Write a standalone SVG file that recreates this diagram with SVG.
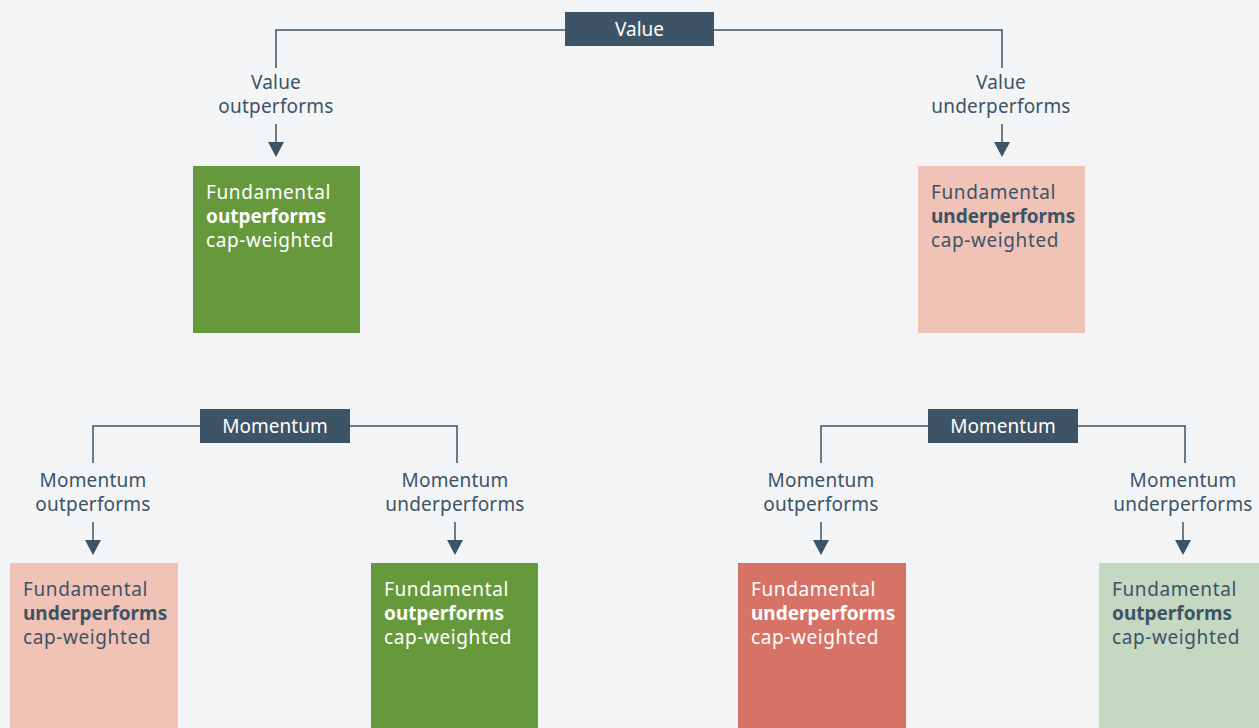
<svg xmlns="http://www.w3.org/2000/svg" width="1259" height="728" viewBox="0 0 1259 728">
  <style>
    text { font-family: "Noto Sans", "Liberation Sans", sans-serif; font-size: 19px; }
    .hdr { fill: #ffffff; text-anchor: middle; }
    .lbl { fill: #3d5366; text-anchor: middle; letter-spacing: 0.2px; }
    .dk { fill: #3d5366; letter-spacing: 0.6px; }
    .wt { fill: #ffffff; letter-spacing: 0.6px; }
    .b { font-weight: bold; letter-spacing: 0; }
    .wire { fill: none; stroke: #3d5366; stroke-width: 1.5; }
    .head { fill: #3d5366; }
    .hbox { fill: #3d5366; }
  </style>
  <rect width="1259" height="728" fill="#f2f4f6"/>

  <!-- connectors: elbow lines from each decision header, then short arrows into the outcomes -->
  <g id="connectors">
    <path class="wire" d="M565,30 H276 V68"/>
    <path class="wire" d="M714,30 H1002 V68"/>
    <path class="wire" d="M276,124 V143"/>
    <path class="head" d="M268,142 L284,142 L276,157 Z"/>
    <path class="wire" d="M1002,124 V143"/>
    <path class="head" d="M994,142 L1010,142 L1002,157 Z"/>

    <path class="wire" d="M200,426 H93 V463"/>
    <path class="wire" d="M350,426 H457 V463"/>
    <path class="wire" d="M93,522 V541"/>
    <path class="head" d="M85,540 L101,540 L93,555 Z"/>
    <path class="wire" d="M455,522 V541"/>
    <path class="head" d="M447,540 L463,540 L455,555 Z"/>

    <path class="wire" d="M928,426 H821 V463"/>
    <path class="wire" d="M1078,426 H1185 V463"/>
    <path class="wire" d="M821,522 V541"/>
    <path class="head" d="M813,540 L829,540 L821,555 Z"/>
    <path class="wire" d="M1183,522 V541"/>
    <path class="head" d="M1175,540 L1191,540 L1183,555 Z"/>
  </g>

  <!-- branch labels -->
  <g id="labels">
    <text class="lbl" x="276" y="89">Value</text>
    <text class="lbl" x="276" y="113">outperforms</text>
    <text class="lbl" x="1001" y="89">Value</text>
    <text class="lbl" x="1001" y="113">underperforms</text>
    <text class="lbl" x="93" y="487">Momentum</text>
    <text class="lbl" x="93" y="511">outperforms</text>
    <text class="lbl" x="455" y="487">Momentum</text>
    <text class="lbl" x="455" y="511">underperforms</text>
    <text class="lbl" x="821" y="487">Momentum</text>
    <text class="lbl" x="821" y="511">outperforms</text>
    <text class="lbl" x="1183" y="487">Momentum</text>
    <text class="lbl" x="1183" y="511">underperforms</text>
  </g>

  <!-- decision headers -->
  <g id="value">
    <rect class="hbox" x="565" y="12" width="149" height="34"/>
    <text class="hdr" x="639.5" y="36">Value</text>
  </g>
  <g id="momentum-left">
    <rect class="hbox" x="200" y="409" width="150" height="34"/>
    <text class="hdr" x="275" y="433">Momentum</text>
  </g>
  <g id="momentum-right">
    <rect class="hbox" x="928" y="409" width="150" height="34"/>
    <text class="hdr" x="1003" y="433">Momentum</text>
  </g>

  <!-- outcome boxes -->
  <g id="outcome-value-out">
    <rect x="193" y="166" width="167" height="167" fill="#66993c"/>
    <text class="wt" x="206" y="199">Fundamental</text>
    <text class="wt b" x="206" y="223">outperforms</text>
    <text class="wt" x="206" y="247">cap-weighted</text>
  </g>
  <g id="outcome-value-under">
    <rect x="918" y="166" width="167" height="167" fill="#f0c3b6"/>
    <text class="dk" x="931" y="199">Fundamental</text>
    <text class="dk b" x="931" y="223">underperforms</text>
    <text class="dk" x="931" y="247">cap-weighted</text>
  </g>
  <g id="outcome-ll">
    <rect x="10" y="563" width="168" height="170" fill="#f0c3b6"/>
    <text class="dk" x="23" y="596">Fundamental</text>
    <text class="dk b" x="23" y="620">underperforms</text>
    <text class="dk" x="23" y="644">cap-weighted</text>
  </g>
  <g id="outcome-lr">
    <rect x="371" y="563" width="167" height="170" fill="#66993c"/>
    <text class="wt" x="384" y="596">Fundamental</text>
    <text class="wt b" x="384" y="620">outperforms</text>
    <text class="wt" x="384" y="644">cap-weighted</text>
  </g>
  <g id="outcome-rl">
    <rect x="738" y="563" width="168" height="170" fill="#d77366"/>
    <text class="wt" x="751" y="596">Fundamental</text>
    <text class="wt b" x="751" y="620">underperforms</text>
    <text class="wt" x="751" y="644">cap-weighted</text>
  </g>
  <g id="outcome-rr">
    <rect x="1099" y="563" width="170" height="170" fill="#c4d8c2"/>
    <text class="dk" x="1112" y="596">Fundamental</text>
    <text class="dk b" x="1112" y="620">outperforms</text>
    <text class="dk" x="1112" y="644">cap-weighted</text>
  </g>
</svg>
